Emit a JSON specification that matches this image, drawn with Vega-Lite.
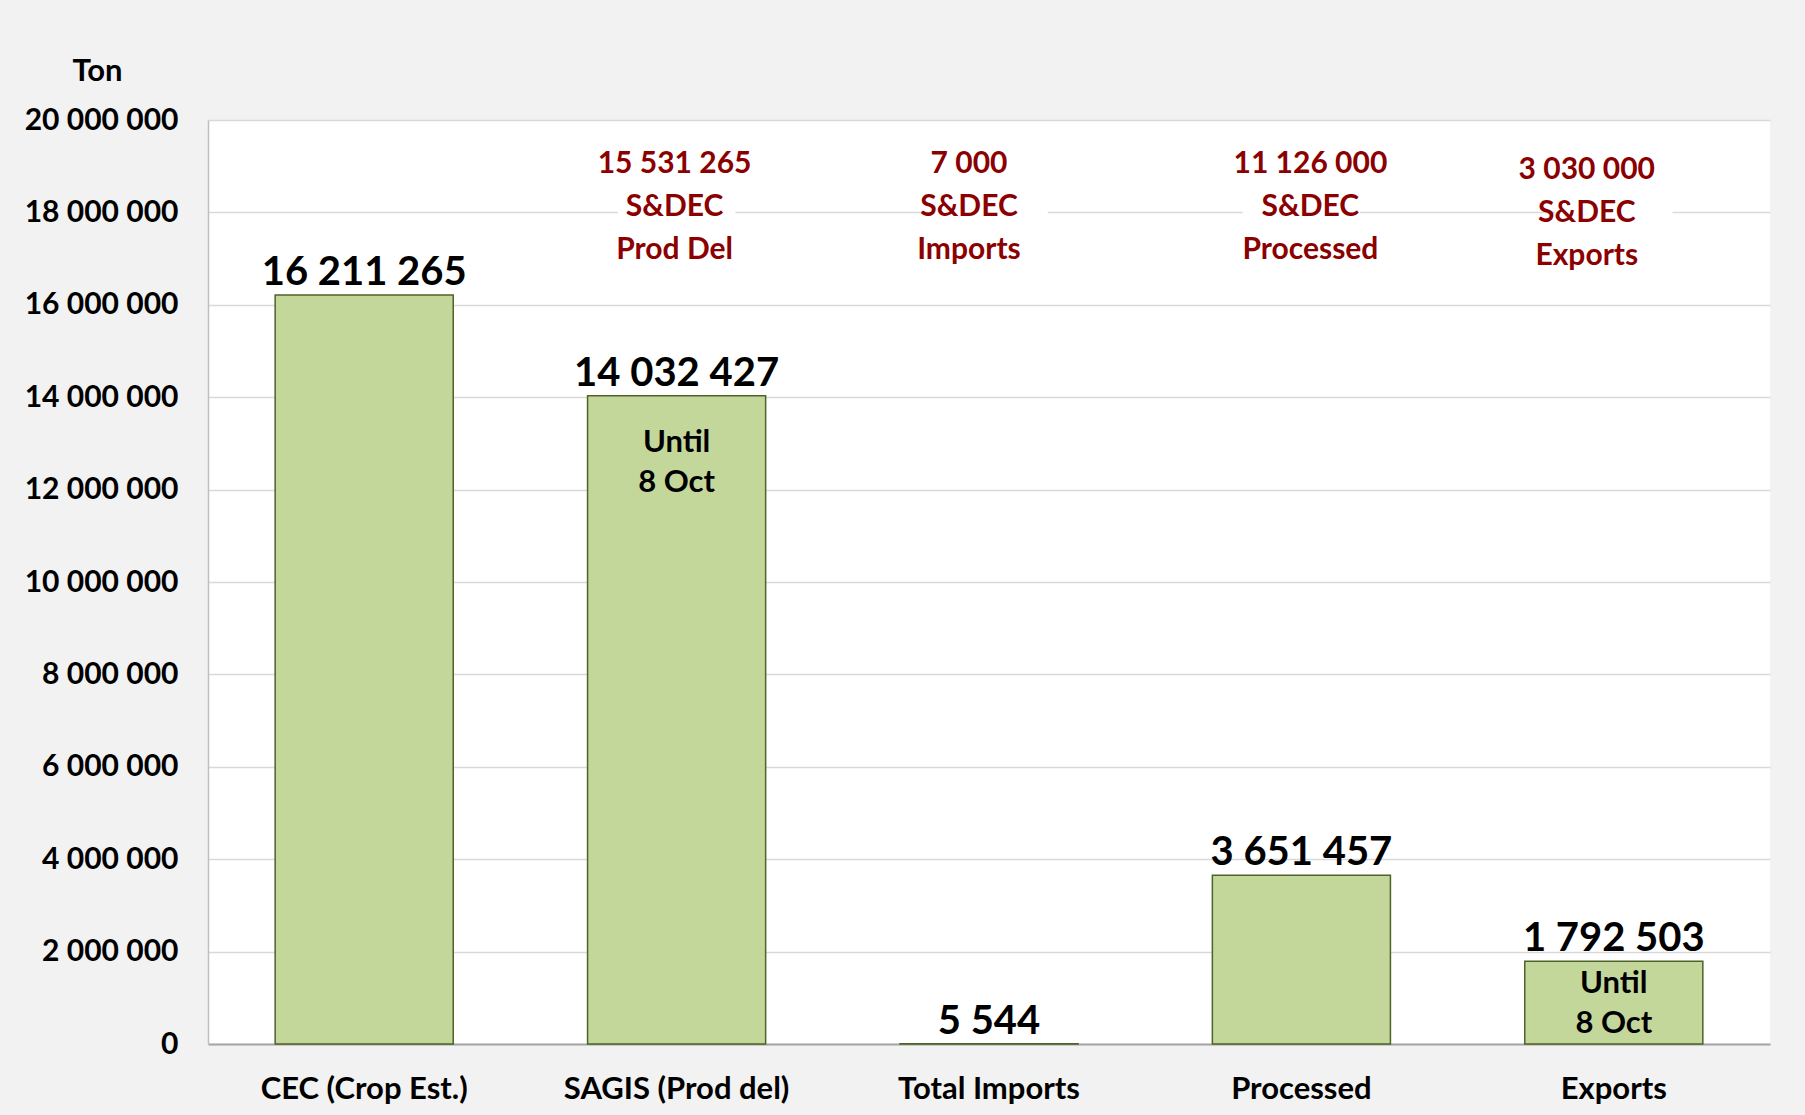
{
  "$schema": "https://vega.github.io/schema/vega-lite/v6.json",
  "width": 1562,
  "height": 924,
  "autosize": "none",
  "padding": {"left": 208, "top": 120, "right": 35, "bottom": 71},
  "background": "#f2f2f2",
  "config": {
    "locale": {"number": {"decimal": ".", "thousands": " ", "grouping": [3], "currency": ["", ""]}},
    "view": {"fill": "white", "stroke": null},
    "font": "Lato",
    "text": {"font": "Lato", "fontWeight": "bold"}
  },
  "data": {
    "values": [
      {"category": "CEC (Crop Est.)", "tons": 16211265},
      {"category": "SAGIS (Prod del)", "tons": 14032427, "sdec_value": 15531265, "sdec_lines": "S&DEC\nProd Del", "note": "Until\n8 Oct"},
      {"category": "Total Imports", "tons": 5544, "sdec_value": 7000, "sdec_lines": "S&DEC\nImports"},
      {"category": "Processed", "tons": 3651457, "sdec_value": 11126000, "sdec_lines": "S&DEC\nProcessed"},
      {"category": "Exports", "tons": 1792503, "sdec_value": 3030000, "sdec_lines": "S&DEC\nExports", "note": "Until\n8 Oct"}
    ]
  },
  "transform": [
    {"calculate": "datum.sdec_value != null ? replace(format(datum.sdec_value, ',d'), regexp(',', 'g'), ' ') + '\\n' + datum.sdec_lines : null", "as": "sdec_text"}
  ],
  "encoding": {
    "x": {
      "field": "category",
      "type": "nominal",
      "sort": ["CEC (Crop Est.)", "SAGIS (Prod del)", "Total Imports", "Processed", "Exports"],
      "scale": {"paddingInner": 0.43, "paddingOuter": 0.215},
      "axis": {
        "title": null,
        "labelAngle": 0,
        "labelLimit": 0,
        "labelFont": "Lato",
        "labelFontWeight": "bold",
        "labelFontSize": 31,
        "labelColor": "#000000",
        "labelPadding": 30,
        "ticks": false,
        "grid": false,
        "domainColor": "#a6a6a6",
        "domainWidth": 2
      }
    }
  },
  "layer": [
    {
      "mark": {"type": "bar", "fill": "#c4d79b", "stroke": "#4f6228", "strokeWidth": 1.5},
      "encoding": {
        "y": {
          "field": "tons",
          "type": "quantitative",
          "scale": {"domain": [0, 20000000], "nice": false},
          "axis": {
            "values": [0, 2000000, 4000000, 6000000, 8000000, 10000000, 12000000, 14000000, 16000000, 18000000, 20000000],
            "labelExpr": "replace(format(datum.value, ',d'), regexp(',', 'g'), ' ')",
            "grid": true,
            "labelFont": "Lato",
            "labelFontWeight": "bold",
            "labelFontSize": 30,
            "labelColor": "#000000",
            "labelPadding": 30,
            "ticks": false,
            "domainColor": "#bfbfbf",
            "domainWidth": 1.5,
            "gridColor": "#d9d9d9",
            "gridWidth": 1.5,
            "title": "Ton",
            "titleAngle": 0,
            "titleX": -111,
            "titleY": -49,
            "titleAlign": "center",
            "titleBaseline": "middle",
            "titleFont": "Lato",
            "titleFontWeight": "bold",
            "titleFontSize": 31,
            "titleColor": "#000000"
          }
        }
      }
    },
    {
      "transform": [{"filter": "datum.sdec_value != null"}],
      "mark": {"type": "bar", "fill": "white", "stroke": null, "width": {"band": 0.66}},
      "encoding": {
        "y": {"datum": 16700000, "type": "quantitative"},
        "y2": {"datum": 19600000}
      }
    },
    {
      "mark": {"type": "text", "fontSize": 40, "color": "#000000", "baseline": "alphabetic", "dy": -10},
      "encoding": {
        "y": {"field": "tons", "type": "quantitative"},
        "text": {"field": "tons", "type": "quantitative", "format": ","}
      }
    },
    {
      "transform": [{"filter": "datum.category == 'SAGIS (Prod del)'"}],
      "mark": {"type": "text", "fontSize": 30, "color": "#8b0000", "baseline": "middle", "lineBreak": "\n", "lineHeight": 43, "dx": -2},
      "encoding": {
        "y": {"datum": 19050000, "type": "quantitative"},
        "text": {"field": "sdec_text", "type": "nominal"}
      }
    },
    {
      "transform": [{"filter": "datum.category == 'Total Imports'"}],
      "mark": {"type": "text", "fontSize": 30, "color": "#8b0000", "baseline": "middle", "lineBreak": "\n", "lineHeight": 43, "dx": -20},
      "encoding": {
        "y": {"datum": 19050000, "type": "quantitative"},
        "text": {"field": "sdec_text", "type": "nominal"}
      }
    },
    {
      "transform": [{"filter": "datum.category == 'Processed'"}],
      "mark": {"type": "text", "fontSize": 30, "color": "#8b0000", "baseline": "middle", "lineBreak": "\n", "lineHeight": 43, "dx": 9},
      "encoding": {
        "y": {"datum": 19050000, "type": "quantitative"},
        "text": {"field": "sdec_text", "type": "nominal"}
      }
    },
    {
      "transform": [{"filter": "datum.category == 'Exports'"}],
      "mark": {"type": "text", "fontSize": 30, "color": "#8b0000", "baseline": "middle", "lineBreak": "\n", "lineHeight": 43, "dx": -27, "dy": 6},
      "encoding": {
        "y": {"datum": 19050000, "type": "quantitative"},
        "text": {"field": "sdec_text", "type": "nominal"}
      }
    },
    {
      "transform": [{"filter": "datum.category == 'SAGIS (Prod del)'"}],
      "mark": {"type": "text", "fontSize": 31, "color": "#000000", "baseline": "middle", "lineBreak": "\n", "lineHeight": 40, "dy": 47},
      "encoding": {
        "y": {"field": "tons", "type": "quantitative"},
        "text": {"field": "note", "type": "nominal"}
      }
    },
    {
      "transform": [{"filter": "datum.category == 'Exports'"}],
      "mark": {"type": "text", "fontSize": 31, "color": "#000000", "baseline": "middle", "lineBreak": "\n", "lineHeight": 40, "dy": 23},
      "encoding": {
        "y": {"field": "tons", "type": "quantitative"},
        "text": {"field": "note", "type": "nominal"}
      }
    }
  ]
}
